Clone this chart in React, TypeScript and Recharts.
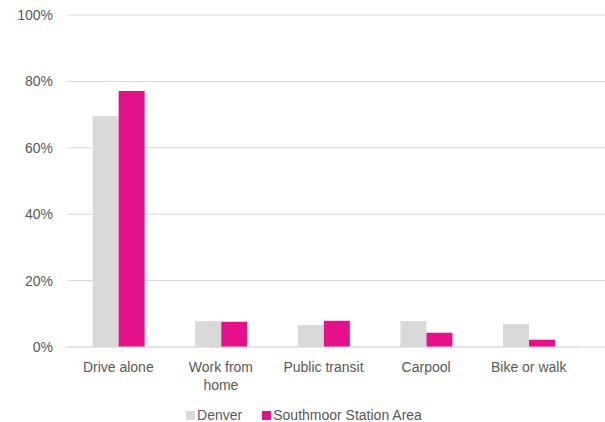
import React from "react";
import {
  BarChart,
  Bar,
  XAxis,
  YAxis,
  CartesianGrid,
  Legend,
} from "recharts";

const categories = ["Drive alone", "Work from\nhome", "Public transit", "Carpool", "Bike or walk"];
const denver = [69.6, 7.8, 6.6, 7.8, 6.9];
const southmoor = [77.1, 7.6, 7.9, 4.3, 2.2];
const yTicks = [0, 20, 40, 60, 80, 100];

const data = categories.map((name, i) => ({
  name,
  denver: denver[i],
  southmoor: southmoor[i],
}));

const FONT = "'Liberation Sans', Arial, sans-serif";
const TEXT = "#595959";
const GREY = "#d9d9d9";
const PINK = "#e5118b";

function CategoryTick(props: any) {
  const { x, y, payload } = props;
  const lines = String(payload.value).split("\n");
  return (
    <text x={x} y={y} textAnchor="middle" fill={TEXT} fontSize={14} fontFamily={FONT}>
      {lines.map((line, i) => (
        <tspan key={i} x={x} dy={i === 0 ? 16.5 : 18}>
          {line}
        </tspan>
      ))}
    </text>
  );
}

function LegendContent() {
  const items = [
    { label: "Denver", color: GREY },
    { label: "Southmoor Station Area", color: PINK },
  ];
  return (
    <div
      style={{
        display: "flex",
        justifyContent: "center",
        gap: 20,
        height: 20,
        alignItems: "center",
        fontFamily: FONT,
        fontSize: 14,
        color: TEXT,
        paddingLeft: 28,
        position: "relative",
        top: 3,
      }}
    >
      {items.map((it) => (
        <div key={it.label} style={{ display: "flex", alignItems: "center" }}>
          <span style={{ width: 9, height: 9, background: it.color, marginRight: 2, display: "inline-block" }} />
          <span>{it.label}</span>
        </div>
      ))}
    </div>
  );
}

export default function App() {
  return (
    <div style={{ position: "absolute", left: 0, top: 0, background: "#fff", overflow: "hidden", width: 605, height: 422 }}>
      <BarChart
        width={605}
        height={422}
        data={data}
        margin={{ top: 15, right: 25, left: 0, bottom: 0 }}
        barCategoryGap="25%"
        barGap={0}
      >
        <CartesianGrid vertical={false} stroke={GREY} x={67} width={560} />
        <XAxis
          dataKey="name"
          height={55}
          tick={<CategoryTick />}
          tickLine={false}
          axisLine={{ stroke: GREY }}
          interval={0}
        />
        <YAxis
          width={67}
          domain={[0, 100]}
          ticks={yTicks}
          tickFormatter={(v: number) => `${v}%`}
          tick={{ fontSize: 14, fill: TEXT, fontFamily: FONT }}
          tickLine={false}
          axisLine={false}
          tickMargin={8}
        />
        <Legend verticalAlign="bottom" content={<LegendContent />} />
        <Bar dataKey="denver" name="Denver" fill={GREY} isAnimationActive={false} />
        <Bar dataKey="southmoor" name="Southmoor Station Area" fill={PINK} isAnimationActive={false} />
      </BarChart>
    </div>
  );
}
